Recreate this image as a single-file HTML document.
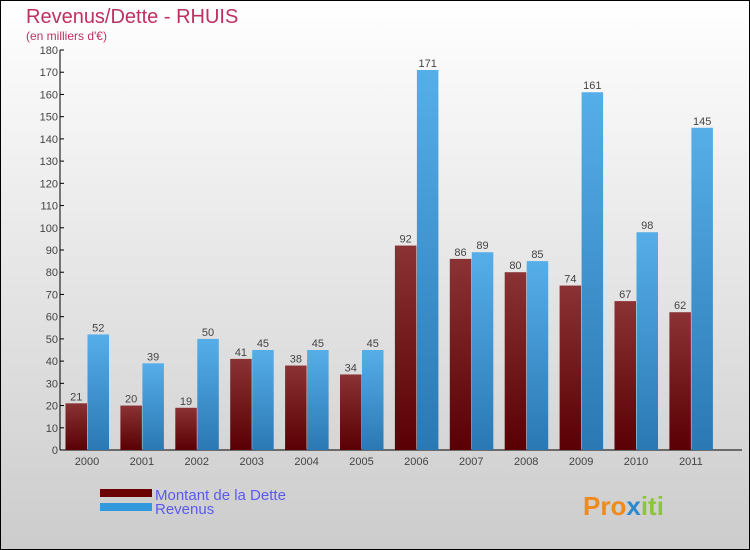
<!DOCTYPE html>
<html><head><meta charset="utf-8"><style>
body{margin:0;width:750px;height:550px;overflow:hidden;font-family:"Liberation Sans","DejaVu Sans",sans-serif}
#wrap{position:absolute;left:0;top:0;width:748px;height:548px;border:1px solid #000;background:linear-gradient(#ffffff,#cccccc)}
</style></head><body>
<div id="wrap">
<svg id="chart" width="750" height="550" style="position:absolute;left:-1px;top:-1px">
<defs>
<linearGradient id="gd" x1="0" y1="0" x2="0" y2="1"><stop offset="0" stop-color="#8a3234"/><stop offset="1" stop-color="#5a0004"/></linearGradient>
<linearGradient id="gr" x1="0" y1="0" x2="0" y2="1"><stop offset="0" stop-color="#56aee8"/><stop offset="1" stop-color="#2a78b4"/></linearGradient>
</defs>
<text x="26" y="23" font-size="20" fill="#c0305e">Revenus/Dette - RHUIS</text>
<text x="26" y="40" font-size="12" fill="#c0305e">(en milliers d'€)</text>
<g id="axes"></g><g id="bars"></g>
<rect x="100" y="489" width="52" height="8" fill="#6a0000"/>
<rect x="100" y="503" width="52" height="8" fill="#3399dd"/>
<text x="155" y="500" font-size="15" fill="#5a5af0">Montant de la Dette</text>
<text x="155" y="514" font-size="15" fill="#5a5af0">Revenus</text>
<text x="583" y="515" font-size="26" font-weight="bold" fill="#f08a1c">Pro<tspan fill="#2a8ad0">x</tspan><tspan fill="#8cc43c">iti</tspan></text>
</svg>
</div>
<script>
const years=["2000","2001","2002","2003","2004","2005","2006","2007","2008","2009","2010","2011"];
const dette=[21,20,19,41,38,34,92,86,80,74,67,62];
const revenus=[52,39,50,45,45,45,171,89,85,161,98,145];
const yTicks=[0,10,20,30,40,50,60,70,80,90,100,110,120,130,140,150,160,170,180];
const NS="http://www.w3.org/2000/svg";
const x0=60,y0=450,yTop=50,yMax=180,step=54.9,first=87,bw=21.5;
const y=v=>y0-(v/yMax)*(y0-yTop);
const xc=i=>first+i*step;
function mk(t,a,p){const e=document.createElementNS(NS,t);for(const k in a)e.setAttribute(k,a[k]);p.appendChild(e);return e;}
const ax=document.getElementById('axes'),bg=document.getElementById('bars');
const yl=mk('line',{x1:x0,y1:yTop,x2:x0,y2:y0,stroke:'#000'},ax);


const xl=mk('line',{x1:x0,y1:y0,x2:742,y2:y0,stroke:'#000'},ax);


yTicks.forEach(v=>{
 mk('line',{x1:x0,y1:y(v),x2:x0+4,y2:y(v),stroke:'#000'},ax);
 const t=mk('text',{x:x0-2,y:y(v)+4,'text-anchor':'end','font-size':11,fill:'#444'},ax);
 t.textContent=v;
 
 
});
years.forEach((yr,i)=>{
 const c=xc(i);
 const t=mk('text',{x:c,y:465,'text-anchor':'middle','font-size':11,fill:'#444'},ax);
 t.textContent=yr;
 
 
 const b1=mk('rect',{x:c-bw,y:y(dette[i]),width:bw,height:y0-y(dette[i]),fill:'url(#gd)'},bg);
 
 
 const b2=mk('rect',{x:c+0.5,y:y(revenus[i]),width:bw,height:y0-y(revenus[i]),fill:'url(#gr)'},bg);
 
 
 const l1=mk('text',{x:c-bw/2,y:y(dette[i])-3,'text-anchor':'middle','font-size':11,fill:'#444'},bg);
 l1.textContent=dette[i];
 
 
 const l2=mk('text',{x:c+bw/2+0.5,y:y(revenus[i])-3,'text-anchor':'middle','font-size':11,fill:'#444'},bg);
 l2.textContent=revenus[i];
 
 
});
</script>
</body></html>
